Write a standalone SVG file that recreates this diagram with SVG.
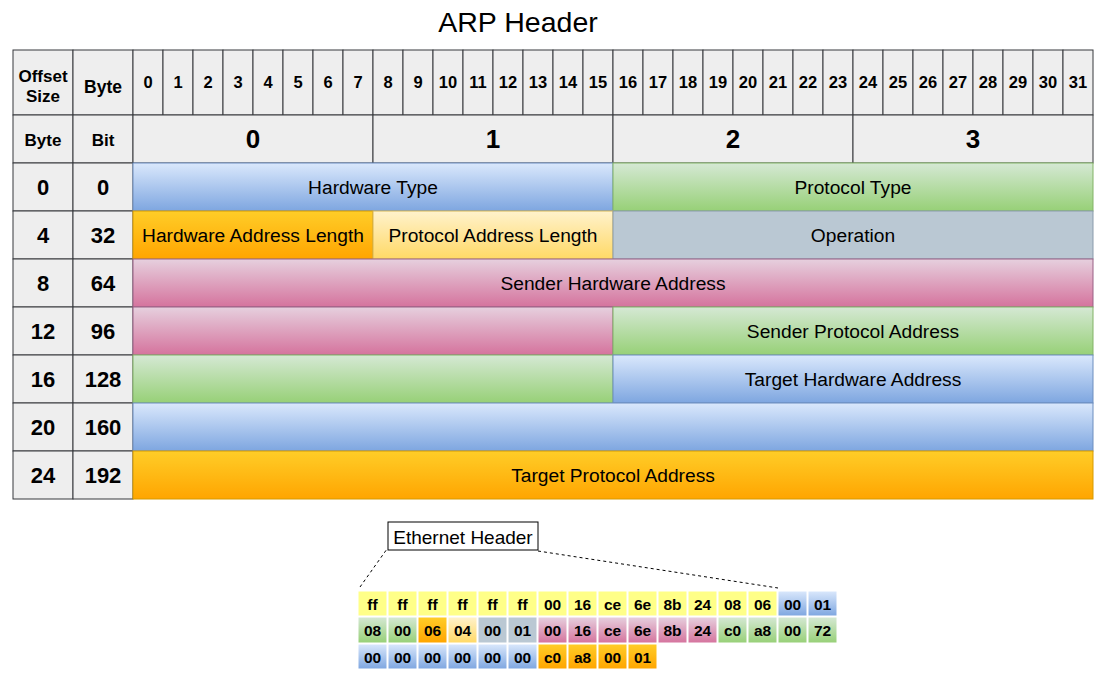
<svg xmlns="http://www.w3.org/2000/svg" width="1103" height="676" viewBox="0 0 1103 676">
<defs>
<linearGradient id="gBlue" x1="0" y1="0" x2="0" y2="1"><stop offset="0" stop-color="#dae8fc"/><stop offset="1" stop-color="#7ea6e0"/></linearGradient>
<linearGradient id="gGreen" x1="0" y1="0" x2="0" y2="1"><stop offset="0" stop-color="#d5e8d4"/><stop offset="1" stop-color="#97d077"/></linearGradient>
<linearGradient id="gPink" x1="0" y1="0" x2="0" y2="1"><stop offset="0" stop-color="#e6d0de"/><stop offset="1" stop-color="#d5739d"/></linearGradient>
<linearGradient id="gOrange" x1="0" y1="0" x2="0" y2="1"><stop offset="0" stop-color="#ffcd28"/><stop offset="1" stop-color="#ffa500"/></linearGradient>
<linearGradient id="gLy" x1="0" y1="0" x2="0" y2="1"><stop offset="0" stop-color="#fff2cc"/><stop offset="1" stop-color="#ffd966"/></linearGradient>
</defs>
<style>
text{font-family:"Liberation Sans",Arial,Helvetica,sans-serif;fill:#000;text-anchor:middle;dominant-baseline:central}
.hd{fill:#eeeeee;stroke:#36393d;stroke-width:1}
.blue{fill:url(#gBlue);stroke:#6c8ebf}
.green{fill:url(#gGreen);stroke:#82b366}
.pink{fill:url(#gPink);stroke:#996185}
.orange{fill:url(#gOrange);stroke:#d79b00}
.ly{fill:url(#gLy);stroke:#d6b656}
.grey{fill:#bac8d3;stroke:#8a9bab}
.num{font-size:16.5px;font-weight:bold}
.lbl{font-size:17px;font-weight:bold}
.byte{font-size:26px;font-weight:bold}
.row{font-size:22px;font-weight:bold}
.fld{font-size:19.2px}
.hx rect{stroke:#ffffff;stroke-width:1}
.hx text{font-size:15.5px;font-weight:bold}
.hy{fill:#ffff88}
</style>
<text x="518" y="22" style="font-size:28.5px">ARP Header</text>
<g id="header">
<rect class="hd" x="13" y="50" width="60" height="65"/>
<rect class="hd" x="73" y="50" width="60" height="65"/>
<text class="lbl" x="43" y="76">Offset</text>
<text class="lbl" x="43" y="96">Size</text>
<text class="lbl" x="103" y="87" style="font-size:17.5px">Byte</text>
<rect class="hd" x="133" y="50" width="30" height="65"/><text class="num" x="148" y="82">0</text>
<rect class="hd" x="163" y="50" width="30" height="65"/><text class="num" x="178" y="82">1</text>
<rect class="hd" x="193" y="50" width="30" height="65"/><text class="num" x="208" y="82">2</text>
<rect class="hd" x="223" y="50" width="30" height="65"/><text class="num" x="238" y="82">3</text>
<rect class="hd" x="253" y="50" width="30" height="65"/><text class="num" x="268" y="82">4</text>
<rect class="hd" x="283" y="50" width="30" height="65"/><text class="num" x="298" y="82">5</text>
<rect class="hd" x="313" y="50" width="30" height="65"/><text class="num" x="328" y="82">6</text>
<rect class="hd" x="343" y="50" width="30" height="65"/><text class="num" x="358" y="82">7</text>
<rect class="hd" x="373" y="50" width="30" height="65"/><text class="num" x="388" y="82">8</text>
<rect class="hd" x="403" y="50" width="30" height="65"/><text class="num" x="418" y="82">9</text>
<rect class="hd" x="433" y="50" width="30" height="65"/><text class="num" x="448" y="82">10</text>
<rect class="hd" x="463" y="50" width="30" height="65"/><text class="num" x="478" y="82">11</text>
<rect class="hd" x="493" y="50" width="30" height="65"/><text class="num" x="508" y="82">12</text>
<rect class="hd" x="523" y="50" width="30" height="65"/><text class="num" x="538" y="82">13</text>
<rect class="hd" x="553" y="50" width="30" height="65"/><text class="num" x="568" y="82">14</text>
<rect class="hd" x="583" y="50" width="30" height="65"/><text class="num" x="598" y="82">15</text>
<rect class="hd" x="613" y="50" width="30" height="65"/><text class="num" x="628" y="82">16</text>
<rect class="hd" x="643" y="50" width="30" height="65"/><text class="num" x="658" y="82">17</text>
<rect class="hd" x="673" y="50" width="30" height="65"/><text class="num" x="688" y="82">18</text>
<rect class="hd" x="703" y="50" width="30" height="65"/><text class="num" x="718" y="82">19</text>
<rect class="hd" x="733" y="50" width="30" height="65"/><text class="num" x="748" y="82">20</text>
<rect class="hd" x="763" y="50" width="30" height="65"/><text class="num" x="778" y="82">21</text>
<rect class="hd" x="793" y="50" width="30" height="65"/><text class="num" x="808" y="82">22</text>
<rect class="hd" x="823" y="50" width="30" height="65"/><text class="num" x="838" y="82">23</text>
<rect class="hd" x="853" y="50" width="30" height="65"/><text class="num" x="868" y="82">24</text>
<rect class="hd" x="883" y="50" width="30" height="65"/><text class="num" x="898" y="82">25</text>
<rect class="hd" x="913" y="50" width="30" height="65"/><text class="num" x="928" y="82">26</text>
<rect class="hd" x="943" y="50" width="30" height="65"/><text class="num" x="958" y="82">27</text>
<rect class="hd" x="973" y="50" width="30" height="65"/><text class="num" x="988" y="82">28</text>
<rect class="hd" x="1003" y="50" width="30" height="65"/><text class="num" x="1018" y="82">29</text>
<rect class="hd" x="1033" y="50" width="30" height="65"/><text class="num" x="1048" y="82">30</text>
<rect class="hd" x="1063" y="50" width="30" height="65"/><text class="num" x="1078" y="82">31</text>
<rect class="hd" x="13" y="115" width="60" height="48"/><text class="lbl" x="43" y="140">Byte</text>
<rect class="hd" x="73" y="115" width="60" height="48"/><text class="lbl" x="103" y="140">Bit</text>
<rect class="hd" x="133" y="115" width="240" height="48"/><text class="byte" x="253" y="139">0</text>
<rect class="hd" x="373" y="115" width="240" height="48"/><text class="byte" x="493" y="139">1</text>
<rect class="hd" x="613" y="115" width="240" height="48"/><text class="byte" x="733" y="139">2</text>
<rect class="hd" x="853" y="115" width="240" height="48"/><text class="byte" x="973" y="139">3</text>
</g>
<g id="offsets">
<rect class="hd" x="13" y="163" width="60" height="48"/><text class="row" x="43" y="187">0</text>
<rect class="hd" x="73" y="163" width="60" height="48"/><text class="row" x="103" y="187">0</text>
<rect class="hd" x="13" y="211" width="60" height="48"/><text class="row" x="43" y="235">4</text>
<rect class="hd" x="73" y="211" width="60" height="48"/><text class="row" x="103" y="235">32</text>
<rect class="hd" x="13" y="259" width="60" height="48"/><text class="row" x="43" y="283">8</text>
<rect class="hd" x="73" y="259" width="60" height="48"/><text class="row" x="103" y="283">64</text>
<rect class="hd" x="13" y="307" width="60" height="48"/><text class="row" x="43" y="331">12</text>
<rect class="hd" x="73" y="307" width="60" height="48"/><text class="row" x="103" y="331">96</text>
<rect class="hd" x="13" y="355" width="60" height="48"/><text class="row" x="43" y="379">16</text>
<rect class="hd" x="73" y="355" width="60" height="48"/><text class="row" x="103" y="379">128</text>
<rect class="hd" x="13" y="403" width="60" height="48"/><text class="row" x="43" y="427">20</text>
<rect class="hd" x="73" y="403" width="60" height="48"/><text class="row" x="103" y="427">160</text>
<rect class="hd" x="13" y="451" width="60" height="48"/><text class="row" x="43" y="475">24</text>
<rect class="hd" x="73" y="451" width="60" height="48"/><text class="row" x="103" y="475">192</text>
</g>
<g id="hardware-type"><rect class="blue" x="133" y="163" width="480" height="48"/><text class="fld" x="373" y="187">Hardware Type</text></g>
<g id="protocol-type"><rect class="green" x="613" y="163" width="480" height="48"/><text class="fld" x="853" y="187">Protocol Type</text></g>
<g id="hw-addr-len"><rect class="orange" x="133" y="211" width="240" height="48"/><text class="fld" x="253" y="235">Hardware Address Length</text></g>
<g id="proto-addr-len"><rect class="ly" x="373" y="211" width="240" height="48"/><text class="fld" x="493" y="235">Protocol Address Length</text></g>
<g id="operation"><rect class="grey" x="613" y="211" width="480" height="48"/><text class="fld" x="853" y="235">Operation</text></g>
<g id="sender-hw-addr"><rect class="pink" x="133" y="259" width="960" height="48"/><text class="fld" x="613" y="283">Sender Hardware Address</text>
<rect class="pink" x="133" y="307" width="480" height="48"/></g>
<g id="sender-proto-addr"><rect class="green" x="613" y="307" width="480" height="48"/><text class="fld" x="853" y="331">Sender Protocol Address</text>
<rect class="green" x="133" y="355" width="480" height="48"/></g>
<g id="target-hw-addr"><rect class="blue" x="613" y="355" width="480" height="48"/><text class="fld" x="853" y="379">Target Hardware Address</text>
<rect class="blue" x="133" y="403" width="960" height="48"/></g>
<g id="target-proto-addr"><rect class="orange" x="133" y="451" width="960" height="48"/><text class="fld" x="613" y="475">Target Protocol Address</text></g>
<g id="connectors" fill="none" stroke="#000" stroke-width="1" stroke-dasharray="3,3">
<line x1="360" y1="587" x2="387" y2="549"/>
<line x1="538" y1="551" x2="778" y2="588"/>
</g>
<g id="ethernet-header"><rect x="388" y="522" width="150" height="28" fill="#fff" stroke="#000"/><text x="463" y="537" style="font-size:19px">Ethernet Header</text></g>
<g id="hex-dump" class="hx">
<rect class="hy" x="358" y="591" width="29" height="25"/><text x="372.5" y="604">ff</text>
<rect class="hy" x="388" y="591" width="29" height="25"/><text x="402.5" y="604">ff</text>
<rect class="hy" x="418" y="591" width="29" height="25"/><text x="432.5" y="604">ff</text>
<rect class="hy" x="448" y="591" width="29" height="25"/><text x="462.5" y="604">ff</text>
<rect class="hy" x="478" y="591" width="29" height="25"/><text x="492.5" y="604">ff</text>
<rect class="hy" x="508" y="591" width="29" height="25"/><text x="522.5" y="604">ff</text>
<rect class="hy" x="538" y="591" width="29" height="25"/><text x="552.5" y="604">00</text>
<rect class="hy" x="568" y="591" width="29" height="25"/><text x="582.5" y="604">16</text>
<rect class="hy" x="598" y="591" width="29" height="25"/><text x="612.5" y="604">ce</text>
<rect class="hy" x="628" y="591" width="29" height="25"/><text x="642.5" y="604">6e</text>
<rect class="hy" x="658" y="591" width="29" height="25"/><text x="672.5" y="604">8b</text>
<rect class="hy" x="688" y="591" width="29" height="25"/><text x="702.5" y="604">24</text>
<rect class="hy" x="718" y="591" width="29" height="25"/><text x="732.5" y="604">08</text>
<rect class="hy" x="748" y="591" width="29" height="25"/><text x="762.5" y="604">06</text>
<rect fill="url(#gBlue)" x="778" y="591" width="29" height="25"/><text x="792.5" y="604">00</text>
<rect fill="url(#gBlue)" x="808" y="591" width="29" height="25"/><text x="822.5" y="604">01</text>
<rect fill="url(#gGreen)" x="358" y="617" width="29" height="26"/><text x="372.5" y="630.5">08</text>
<rect fill="url(#gGreen)" x="388" y="617" width="29" height="26"/><text x="402.5" y="630.5">00</text>
<rect fill="url(#gOrange)" x="418" y="617" width="29" height="26"/><text x="432.5" y="630.5">06</text>
<rect fill="url(#gLy)" x="448" y="617" width="29" height="26"/><text x="462.5" y="630.5">04</text>
<rect fill="#bac8d3" x="478" y="617" width="29" height="26"/><text x="492.5" y="630.5">00</text>
<rect fill="#bac8d3" x="508" y="617" width="29" height="26"/><text x="522.5" y="630.5">01</text>
<rect fill="url(#gPink)" x="538" y="617" width="29" height="26"/><text x="552.5" y="630.5">00</text>
<rect fill="url(#gPink)" x="568" y="617" width="29" height="26"/><text x="582.5" y="630.5">16</text>
<rect fill="url(#gPink)" x="598" y="617" width="29" height="26"/><text x="612.5" y="630.5">ce</text>
<rect fill="url(#gPink)" x="628" y="617" width="29" height="26"/><text x="642.5" y="630.5">6e</text>
<rect fill="url(#gPink)" x="658" y="617" width="29" height="26"/><text x="672.5" y="630.5">8b</text>
<rect fill="url(#gPink)" x="688" y="617" width="29" height="26"/><text x="702.5" y="630.5">24</text>
<rect fill="url(#gGreen)" x="718" y="617" width="29" height="26"/><text x="732.5" y="630.5">c0</text>
<rect fill="url(#gGreen)" x="748" y="617" width="29" height="26"/><text x="762.5" y="630.5">a8</text>
<rect fill="url(#gGreen)" x="778" y="617" width="29" height="26"/><text x="792.5" y="630.5">00</text>
<rect fill="url(#gGreen)" x="808" y="617" width="29" height="26"/><text x="822.5" y="630.5">72</text>
<rect fill="url(#gBlue)" x="358" y="644" width="29" height="25"/><text x="372.5" y="657">00</text>
<rect fill="url(#gBlue)" x="388" y="644" width="29" height="25"/><text x="402.5" y="657">00</text>
<rect fill="url(#gBlue)" x="418" y="644" width="29" height="25"/><text x="432.5" y="657">00</text>
<rect fill="url(#gBlue)" x="448" y="644" width="29" height="25"/><text x="462.5" y="657">00</text>
<rect fill="url(#gBlue)" x="478" y="644" width="29" height="25"/><text x="492.5" y="657">00</text>
<rect fill="url(#gBlue)" x="508" y="644" width="29" height="25"/><text x="522.5" y="657">00</text>
<rect fill="url(#gOrange)" x="538" y="644" width="29" height="25"/><text x="552.5" y="657">c0</text>
<rect fill="url(#gOrange)" x="568" y="644" width="29" height="25"/><text x="582.5" y="657">a8</text>
<rect fill="url(#gOrange)" x="598" y="644" width="29" height="25"/><text x="612.5" y="657">00</text>
<rect fill="url(#gOrange)" x="628" y="644" width="29" height="25"/><text x="642.5" y="657">01</text>
</g>
</svg>
